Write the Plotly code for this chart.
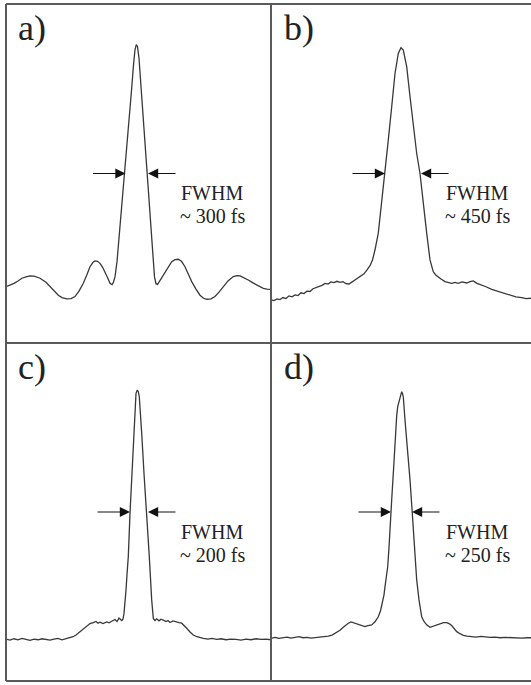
import plotly.graph_objects as go

W, H = 531, 685

# ---------------- data ----------------
panel_labels = ["a)", "b)", "c)", "d)"]
fwhm_title = "FWHM"
fwhm_values = ["~ 300 fs", "~ 450 fs", "~ 200 fs", "~ 250 fs"]

# delay (a.u.) and autocorrelation signal (% of frame height)
delay_a = [0, 4, 8, 12, 16, 20, 24, 28, 34, 40, 44, 48, 52.3, 56, 60.7, 65, 69, 73, 77.3, 81,
           84, 87, 89, 91.5, 94, 96.5, 99, 101.5, 104, 106, 107.3, 109, 111, 114, 117, 120, 123,
           125.5, 127.5, 129, 130.3, 131.5, 133, 135, 137.5, 140, 142.5, 145, 147, 148.5, 150,
           151.5, 153.3, 156, 159, 162.5, 165.7, 169, 172.3, 175.5, 179, 182.5, 185.7, 190, 194,
           197.5, 200.7, 205, 209, 213, 217.3, 222, 227.3, 231, 234, 238, 242.3, 246.5, 250.7,
           254, 257.3, 261, 265]
signal_a = [16.6, 17.0, 17.6, 18.3, 19.1, 19.5, 19.8, 19.7, 19.1, 17.9, 16.6, 15.4, 14.1, 13.4,
            13.0, 13.1, 13.7, 15.3, 17.6, 20.2, 22.5, 23.8, 24.2, 24.1, 23.5, 22.4, 21.0, 19.3,
            17.6, 17.2, 17.8, 19.5, 24.0, 34.0, 44.5, 54.5, 65.0, 74.5, 82.0, 86.5, 88.0, 87.5,
            84.0, 76.0, 66.0, 55.5, 44.5, 33.5, 25.0, 19.5, 17.5, 17.3, 18.1, 19.4, 21.0, 22.8,
            24.0, 24.6, 24.7, 24.1, 22.5, 20.2, 18.1, 15.9, 14.1, 13.2, 12.9, 13.0, 13.7, 15.0,
            16.6, 18.3, 19.6, 19.9, 19.8, 19.3, 18.6, 17.8, 17.1, 16.5, 16.1, 15.9, 15.8]

delay_b = [0, 3, 6, 9, 12, 15, 18, 21, 24, 27, 30, 33, 36, 39, 42, 45, 48, 51, 54, 57, 60, 63,
           66, 69, 72, 75, 78, 81, 84, 87, 90, 93, 96, 99, 101.5, 104, 107.3, 110.7, 114, 117.3,
           120.7, 124, 127.3, 130, 132.3, 135.7, 139, 142.3, 145.7, 149, 152.3, 155.7, 159,
           162.3, 165, 167.3, 170, 174, 177, 180.7, 184, 187.3, 191, 195.7, 199, 202.3, 206,
           210.7, 215, 220.7, 225, 230.7, 235, 240.7, 245, 250.7, 255, 260]
signal_b = [12.7, 12.5, 13.0, 12.8, 13.4, 13.1, 13.9, 13.6, 14.2, 14.0, 14.8, 14.6, 15.3, 15.2,
            16.0, 16.3, 16.8, 17.0, 17.6, 17.4, 18.0, 17.8, 18.2, 17.9, 18.1, 17.5, 17.4, 18.0,
            18.6, 19.0, 19.6, 20.4, 21.6, 22.8, 24.5, 27.5, 32.4, 41.2, 50.0, 59.9, 69.7, 79.5,
            85.4, 87.1, 86.4, 81.5, 72.7, 63.8, 55.9, 50.0, 42.2, 32.4, 24.5, 21.0, 20.0, 19.6,
            18.9, 18.1, 17.8, 17.6, 17.9, 17.6, 18.0, 17.7, 18.1, 18.3, 17.6, 17.1, 16.6, 15.8,
            15.4, 14.7, 14.4, 13.9, 13.6, 13.4, 13.1, 13.2]

delay_c = [0, 4, 8, 12, 16, 20, 24, 28, 32, 36, 40, 44, 48, 52, 56, 60, 64, 67, 70, 74, 77,
           80.7, 84, 87.3, 90, 92, 94, 97, 100.7, 103, 106, 109, 111, 113, 115.7, 117, 118, 119,
           120, 121, 122.3, 124, 126, 128, 130, 131.3, 132.3, 133.3, 134.5, 135.7, 138, 140.7,
           143.3, 145.7, 147.3, 149, 150.7, 153, 155, 157.3, 160, 162, 164, 167, 170.7, 173,
           175.7, 178, 180.7, 184, 187.3, 191, 194, 197.3, 202, 206, 210.7, 215, 220, 225, 230,
           235, 240, 245, 250, 255, 260, 265]
signal_c = [12.4, 12.1, 12.5, 12.2, 12.6, 12.3, 12.0, 12.4, 12.2, 12.5, 12.3, 12.1, 12.4, 12.6,
            12.2, 12.5, 12.8, 13.1, 13.6, 14.6, 15.4, 16.3, 17.0, 17.3, 17.6, 17.1, 17.4, 17.0,
            17.5, 17.2, 17.8, 18.2, 17.6, 18.6, 17.9, 18.3, 20.0, 23.0, 26.9, 31.5, 36.8, 49.6,
            61.4, 76.2, 85.1, 86.1, 85.6, 84.1, 79.5, 73.3, 61.4, 49.9, 36.8, 24.0, 18.5, 17.9,
            18.4, 17.8, 18.3, 18.0, 17.6, 17.9, 17.3, 17.8, 17.6, 17.3, 17.1, 16.5, 15.6, 14.5,
            13.6, 13.1, 12.8, 12.6, 12.4, 12.6, 12.3, 12.5, 12.2, 12.4, 12.3, 12.1, 12.4, 12.2,
            12.5, 12.3, 12.4, 12.2]

delay_d = [0, 4, 8, 12, 16, 20, 24, 28, 32, 36, 40, 44, 48, 52, 57.3, 61, 65.7, 69, 72.3, 75,
           77.3, 80, 82.3, 85, 87.3, 90, 94, 97, 100.7, 104, 107.3, 109.5, 111.3, 113, 114,
           115.5, 116.7, 118, 119, 120.7, 122.3, 123.5, 124.7, 125.7, 126.7, 128, 129, 130.7,
           131.5, 132.3, 134, 136.7, 139, 141.3, 143.3, 145.7, 148, 150.7, 153, 155.7, 159,
           162.3, 165.5, 169, 172.5, 175.7, 178, 180.7, 183, 185.7, 189, 192.3, 196, 200.7,
           205, 210, 214, 219, 224, 229, 234, 240.7, 246, 251, 256, 260]
signal_d = [12.6, 12.9, 12.6, 12.8, 13.0, 12.7, 12.9, 13.1, 12.8, 12.9, 12.7, 12.8, 13.0, 13.1,
            13.3, 13.6, 14.3, 15.0, 15.9, 16.7, 17.1, 17.5, 17.3, 17.0, 16.8, 16.5, 16.1, 16.4,
            16.6, 17.5, 19.0, 20.8, 23.0, 25.5, 27.9, 30.5, 33.8, 39.5, 45.7, 53.6, 61.4, 68.5,
            75.2, 78.5, 81.2, 82.5, 84.1, 85.6, 85.0, 84.1, 77.2, 68.3, 59.5, 49.6, 39.7, 29.9,
            24.0, 19.0, 17.6, 16.6, 15.9, 16.2, 16.6, 16.9, 17.3, 17.3, 17.0, 16.4, 15.6, 14.6,
            14.0, 13.5, 13.3, 13.1, 13.0, 13.2, 13.1, 12.9, 13.0, 12.8, 12.9, 12.8, 12.9, 12.7,
            12.8, 12.8]

# half-maximum crossings (delay a.u.) marked by the arrows, and the level (%)
fwhm_left = [119.5, 114, 124, 120]
fwhm_right = [142, 150, 142, 141]
fwhm_level = [50, 50, 50, 50]

delays = [delay_a, delay_b, delay_c, delay_d]
signals = [signal_a, signal_b, signal_c, signal_d]

# ---------------- layout geometry (pixels) ----------------
X0, XM, X1 = 6, 271, 531
Y0, YM, Y1 = 4, 343, 681
panels = [  # (left, right, top, bottom) in px
    (X0, XM, Y0, YM), (XM, X1, Y0, YM),
    (X0, XM, YM, Y1), (XM, X1, YM, Y1),
]


def px(x):
    return x / W


def py(y):
    return 1 - y / H


LINE = "#383838"
FRAME = "#5a5a5a"
TXT = "#222222"
SERIF = "Liberation Serif, Times New Roman, serif"

fig = go.Figure()
annotations = []
for i, (l, r, t, b) in enumerate(panels):
    n = "" if i == 0 else str(i + 1)
    fig.add_trace(go.Scatter(
        x=delays[i], y=signals[i], mode="lines",
        line=dict(color=LINE, width=1.3),
        xaxis="x" + n, yaxis="y" + n, showlegend=False, hoverinfo="skip",
    ))
    ax_common = dict(showgrid=False, zeroline=False, showticklabels=False,
                     ticks="", showline=False, fixedrange=True)
    fig.layout["xaxis" + n] = dict(domain=[px(l), px(r)], range=[0, r - l],
                                   anchor="y" + n, **ax_common)
    fig.layout["yaxis" + n] = dict(domain=[py(b), py(t)], range=[0, 100],
                                   anchor="x" + n, **ax_common)

    # arrows to the half-maximum crossings
    annotations.append(dict(xref="x" + n, yref="y" + n, x=fwhm_left[i], y=fwhm_level[i],
                            ax=-34, ay=0, text="", showarrow=True, arrowhead=2,
                            arrowsize=1.7, arrowwidth=1.2, arrowcolor="#111", standoff=0))
    annotations.append(dict(xref="x" + n, yref="y" + n, x=fwhm_right[i], y=fwhm_level[i],
                            ax=29, ay=0, text="", showarrow=True, arrowhead=2,
                            arrowsize=1.7, arrowwidth=1.2, arrowcolor="#111", standoff=0))

    # panel letter
    lab_x = l + (10 if i % 2 == 0 else 11)
    annotations.append(dict(xref="paper", yref="paper", x=px(lab_x), y=py(t + 23.5),
                            xanchor="left", yanchor="middle", showarrow=False,
                            text=panel_labels[i], font=dict(family=SERIF, size=36, color=TXT)))
    # FWHM text
    cx = l + 206
    annotations.append(dict(xref="paper", yref="paper", x=px(cx), y=py(t + 188.5),
                            xanchor="center", yanchor="middle", showarrow=False,
                            text=fwhm_title, font=dict(family=SERIF, size=20, color=TXT)))
    annotations.append(dict(xref="paper", yref="paper", x=px(cx), y=py(t + 211.5),
                            xanchor="center", yanchor="middle", showarrow=False,
                            text=fwhm_values[i], font=dict(family=SERIF, size=20, color=TXT)))

shapes = [
    dict(type="line", xref="paper", yref="paper", x0=px(X0), x1=px(X0), y0=py(Y0), y1=py(Y1),
         line=dict(color=FRAME, width=2)),
    dict(type="line", xref="paper", yref="paper", x0=px(XM), x1=px(XM), y0=py(Y0), y1=py(Y1),
         line=dict(color=FRAME, width=2)),
    dict(type="line", xref="paper", yref="paper", x0=px(X0), x1=1, y0=py(Y0), y1=py(Y0),
         line=dict(color=FRAME, width=2)),
    dict(type="line", xref="paper", yref="paper", x0=px(X0), x1=1, y0=py(YM), y1=py(YM),
         line=dict(color=FRAME, width=2)),
    dict(type="line", xref="paper", yref="paper", x0=px(X0), x1=1, y0=py(Y1), y1=py(Y1),
         line=dict(color=FRAME, width=2)),
]

fig.update_layout(
    width=W, height=H,
    margin=dict(l=0, r=0, t=0, b=0, pad=0),
    paper_bgcolor="white", plot_bgcolor="white",
    annotations=annotations, shapes=shapes,
    showlegend=False,
)

fig.write_html("out.html", config={"displayModeBar": False})
